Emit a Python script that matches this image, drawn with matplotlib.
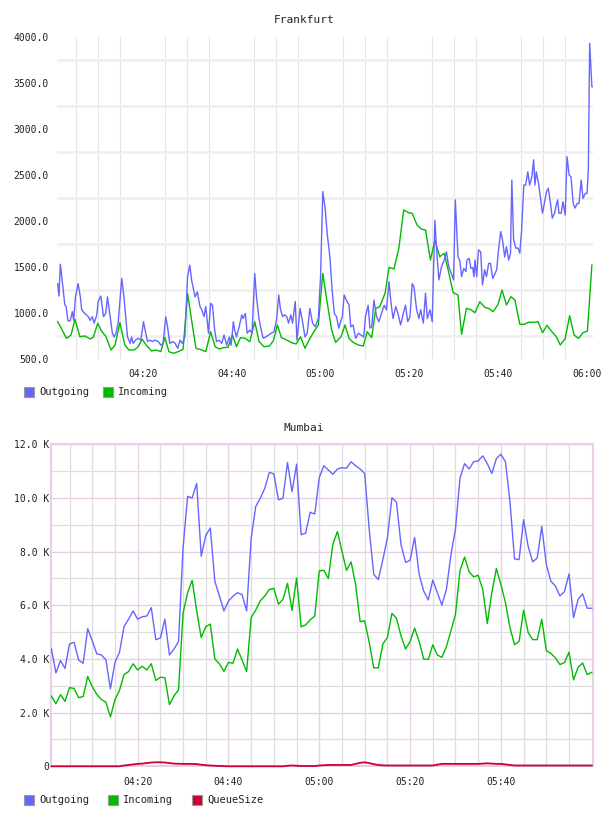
import numpy as np
import pandas as pd
import matplotlib
matplotlib.use("Agg")
import matplotlib.pyplot as plt
import matplotlib.dates as mdates
from matplotlib.patches import Rectangle
from matplotlib.ticker import FixedLocator

plt.rcParams['font.family'] = ['DejaVu Sans Mono']

# ---------------- data ----------------
BASE = "2024-01-01 04:00"

# Frankfurt (minutes after 04:00)
fra_out_min = [0.9,1.2,1.5,1.9,2.5,2.8,3.2,3.7,4.2,4.5,4.9,5.5,6.0,6.3,7.0,7.8,8.2,8.7,9.1,9.7,
               10.0,10.6,11.2,11.7,12.1,12.7,13.2,13.6,14.0,14.5,15.3,15.8,16.2,16.6,17.2,17.5,17.9,18.4,19.0,19.6,
               20.2,20.7,21.1,21.6,22.2,22.8,23.5,24.1,24.6,25.2,25.6,26.1,26.7,27.3,27.9,28.4,28.9,29.5,
               30.1,30.6,31.0,31.8,32.3,32.9,33.3,33.8,34.2,34.5,34.8,35.3,35.7,36.2,36.6,37.2,37.8,38.3,38.9,39.5,39.9,
               40.4,40.7,41.1,41.7,42.3,42.6,43.1,43.5,44.1,44.6,45.2,45.6,46.1,46.5,47.1,47.7,48.3,48.9,49.5,
               50.1,50.6,51.0,51.5,51.9,52.4,52.8,53.3,53.7,54.3,54.7,55.4,56.0,56.5,57.0,57.6,58.2,58.8,59.5,
               60.0,60.5,61.0,61.5,62.1,62.6,63.1,63.6,64.1,64.6,64.9,65.3,65.8,66.4,66.8,67.3,67.9,68.5,69.1,69.7,
               70.1,70.7,71.1,71.5,72.0,72.6,73.1,73.7,74.3,74.8,75.4,75.8,76.3,76.9,77.4,78.0,78.6,79.1,79.6,
               80.1,80.6,81.0,81.6,82.1,82.5,83.1,83.6,84.0,84.6,85.1,85.7,86.1,86.6,87.2,87.8,88.3,88.8,89.4,89.9,
               90.3,90.9,91.3,91.7,92.2,92.7,92.9,93.4,93.8,94.2,94.5,94.7,95.1,95.5,96.0,96.4,96.9,97.3,97.8,98.2,98.7,99.1,99.6,
               100.0,100.5,100.9,101.4,101.8,102.3,102.7,103.0,103.4,103.9,104.4,104.8,105.2,105.7,106.1,106.6,107.0,107.5,107.9,108.2,108.5,109.0,109.4,109.9,
               110.3,110.8,111.2,111.7,112.1,112.6,113.0,113.3,113.6,114.1,114.5,115.0,115.4,115.9,116.3,116.8,117.2,117.7,118.1,118.6,119.0,119.5,119.9,
               120.2,120.5,121.0,121.3]
fra_out_val = [1320,1185,1530,1360,1090,1070,915,915,1015,920,1175,1320,1175,1035,995,960,920,960,890,980,
               1125,1185,960,995,1175,960,780,740,780,890,1375,1175,960,740,670,740,670,705,725,705,
               905,780,690,705,690,705,690,650,670,960,850,670,690,670,615,705,670,740,
               1395,1520,1360,1175,1230,1070,1035,960,1070,920,780,1105,1085,815,690,705,670,760,650,740,650,
               905,815,740,850,980,940,995,780,815,780,1430,1175,960,850,725,740,760,780,795,
               920,1195,1035,960,980,960,890,980,890,1125,705,1050,890,740,780,1050,890,850,940,
               1395,2320,2150,1860,1610,1250,995,960,835,920,960,1195,1140,1085,850,870,725,780,760,740,
               960,1085,835,850,1140,960,905,995,1085,1035,1340,1125,940,1070,995,870,995,1085,905,
               960,1320,1285,1035,940,1035,890,1215,940,1035,905,2010,1685,1360,1505,1575,1665,1505,1430,1360,
               2230,1610,1570,1395,1485,1450,1575,1595,1485,1495,1395,1575,1395,1685,1665,1305,1470,1395,1540,1540,1375,1415,1470,
               1685,1885,1795,1610,1720,1575,1650,2445,1795,1705,1705,1650,1900,2390,2390,2535,2390,2480,2665,2390,2535,2410,2265,2085,
               2190,2320,2355,2190,2030,2085,2175,2230,2085,2085,2210,2065,2700,2500,2480,2190,2140,2190,2190,2445,2245,2300,2300,
               2555,3930,3460,3460]

fra_in_min = [0.9,1.9,2.9,3.9,4.8,5.9,7.0,8.2,8.9,9.9,10.8,11.7,12.9,13.8,14.9,16.0,16.9,18.1,19.0,19.9,
              20.9,22.0,23.0,24.1,25.0,25.9,26.9,28.0,29.1,30.1,31.0,32.0,33.3,34.2,35.3,36.3,37.2,38.3,39.2,
              40.2,41.1,42.0,43.1,44.1,45.2,46.2,47.3,48.5,49.4,50.3,51.2,52.4,53.5,54.5,55.5,56.5,57.4,58.5,59.5,
              60.5,61.4,62.5,63.4,64.6,65.5,66.4,67.3,68.5,69.6,70.5,71.5,72.4,73.3,74.5,75.4,76.5,77.6,78.7,79.7,
              80.6,81.7,82.7,83.6,84.7,85.7,86.8,87.8,88.7,89.8,90.9,91.7,92.8,93.9,94.7,95.8,96.9,97.9,98.8,99.9,
              100.8,101.8,102.8,103.7,104.8,105.8,106.7,107.9,108.9,109.9,110.9,112.0,113.0,113.9,115.0,116.0,117.0,118.0,119.0,120.0,121.0]
fra_in_val = [906,815,724,761,931,742,750,717,735,888,800,750,598,652,895,652,598,598,634,714,
              645,587,598,580,736,580,562,580,605,1214,924,616,598,580,797,634,609,624,627,
              761,634,732,724,688,906,688,634,641,699,870,732,706,677,663,742,616,706,797,870,
              1431,1141,815,681,742,870,724,681,652,641,797,732,1051,1068,1214,1496,1478,1703,2120,2092,
              2083,1956,1912,1902,1576,1793,1612,1649,1467,1221,1196,768,1051,1033,1003,1123,1063,1047,1014,1094,
              1250,1087,1177,1141,877,877,899,899,906,786,866,797,742,652,724,971,761,724,786,804,1522]

# Mumbai: one sample per minute, 04:01 .. 06:00
mum_out_val = [4390,3480,3940,3650,4560,4620,3960,3840,5130,4680,4190,4150,3970,2890,3870,4250,5210,5480,5790,5480,
               5570,5600,5910,4720,4780,5480,4150,4370,4650,8130,10060,10000,10540,7830,8600,8880,6900,6350,5790,6160,
               6340,6470,6400,5790,8500,9680,9990,10360,10950,10900,9930,9990,11320,10230,11260,8630,8690,9470,9400,10760,
               11200,11040,10880,11080,11130,11110,11350,11200,11080,10910,8820,7150,6960,7700,8500,10010,9840,8260,7600,7680,
               8530,7150,6530,6200,6940,6470,6010,6590,7890,8850,10750,11280,11080,11350,11380,11570,11280,10910,11470,11630,
               11350,9860,7730,7700,9190,8200,7620,7760,8940,7520,6900,6720,6350,6510,7170,5540,6220,6430,5890,5890]
mum_in_val = [2620,2330,2670,2420,2930,2900,2560,2600,3350,2970,2680,2490,2390,1840,2480,2830,3420,3530,3820,3590,
              3730,3590,3820,3200,3320,3300,2300,2620,2850,5700,6470,6930,5800,4800,5200,5300,4000,3820,3540,3870,
              3840,4370,3960,3530,5540,5820,6160,6350,6590,6630,6040,6220,6820,5810,7020,5200,5270,5460,5600,7280,
              7310,7000,8280,8750,8010,7300,7620,6780,5390,5420,4620,3670,3670,4560,4800,5700,5520,4860,4370,4650,
              5150,4650,4000,3980,4530,4150,4060,4460,5050,5670,7300,7800,7250,7060,7120,6590,5320,6470,7370,6780,
              6100,5170,4530,4650,5820,4990,4720,4720,5480,4310,4210,4040,3790,3870,4250,3220,3690,3850,3420,3500]
mum_queue_val = [0,0,0,0,0,0,0,0,0,0,0,0,0,0,0,0,30,50,70,90,
                 100,120,140,150,150,140,120,100,95,90,90,90,80,60,40,30,20,10,5,0,
                 0,0,0,0,0,0,0,0,0,0,0,0,20,30,20,10,10,10,10,30,
                 40,50,50,50,50,50,50,90,130,150,120,80,50,35,30,30,30,30,30,30,
                 30,30,30,30,30,60,90,90,90,90,90,90,90,90,90,100,110,100,90,90,
                 70,50,30,30,30,30,30,30,30,30,30,30,30,30,30,30,30,30,30,30]

fra_xtick_labels = ["04:20", "04:40", "05:00", "05:20", "05:40", "06:00"]
mum_xtick_labels = ["04:20", "04:40", "05:00", "05:20", "05:40"]
fra_yticks = [500, 1000, 1500, 2000, 2500, 3000, 3500, 4000]
mum_yticks = [0, 2000, 4000, 6000, 8000, 10000, 12000]

# ---------------- helpers ----------------
base = pd.Timestamp(BASE)
def to_time(mins):
    return base + pd.to_timedelta(np.asarray(mins, dtype=float), unit="m")

def label_times(labels):
    return [pd.Timestamp("2024-01-01 " + s) for s in labels]

C_OUT = "#6666ff"
C_IN = "#00bb00"
C_Q = "#cc0033"
TXT = "#222222"

W, H = 608, 816
fig = plt.figure(figsize=(W / 100, H / 100), dpi=100)

def fx(px):
    return px / W

def fy(py):
    return 1 - py / H

# ---------------- Frankfurt ----------------
ax1 = fig.add_axes([fx(57), fy(359), fx(593 - 57), (359 - 37) / H])
ax1.plot(to_time(fra_in_min), fra_in_val, color=C_IN, lw=1.0, zorder=3)
ax1.plot(to_time(fra_out_min), fra_out_val, color=C_OUT, lw=1.0, zorder=4)
ax1.set_ylim(500, 4000)
ax1.set_xlim(to_time([0.75])[0], to_time([121.25])[0])
ax1.set_yticks(fra_yticks)
ax1.set_yticklabels([f"{v:.1f}" for v in fra_yticks])
ax1.yaxis.set_minor_locator(FixedLocator(np.arange(750, 4000, 500)))
ax1.set_xticks(label_times(fra_xtick_labels))
ax1.set_xticklabels(fra_xtick_labels)
ax1.xaxis.set_minor_locator(mdates.MinuteLocator(byminute=range(0, 60, 5)))
ax1.grid(which="minor", axis="y", color="#f0f0f0", lw=2.0, zorder=0)
ax1.grid(which="minor", axis="x", color="#e4e4e4", lw=0.8, zorder=0)
ax1.grid(which="major", visible=False)
for s in ax1.spines.values():
    s.set_visible(False)
ax1.tick_params(which="both", length=0)
ax1.tick_params(axis="y", pad=6, labelsize=7, labelcolor=TXT)
ax1.tick_params(axis="x", pad=7, labelsize=7, labelcolor=TXT)
fig.text(0.5, fy(20), "Frankfurt", ha="center", va="center", fontsize=8, color=TXT)

# ---------------- Mumbai ----------------
ax2 = fig.add_axes([fx(50.7), fy(766.3), fx(593.3 - 50.7), (766.3 - 444.3) / H])
mt = to_time(np.arange(1, 121))
ax2.plot(mt, mum_in_val, color=C_IN, lw=1.0, zorder=3)
ax2.plot(mt, mum_out_val, color=C_OUT, lw=1.0, zorder=4)
ax2.plot(mt, mum_queue_val, color=C_Q, lw=1.3, zorder=5, clip_on=False)
ax2.set_ylim(0, 12000)
ax2.set_xlim(to_time([0.85])[0], to_time([120.35])[0])
ax2.set_yticks(mum_yticks)
ax2.set_yticklabels(["0" if v == 0 else f"{v/1000:.1f} K" for v in mum_yticks])
ax2.yaxis.set_minor_locator(FixedLocator(np.arange(1000, 12000, 2000)))
ax2.set_xticks(label_times(mum_xtick_labels))
ax2.set_xticklabels(mum_xtick_labels)
ax2.xaxis.set_minor_locator(mdates.MinuteLocator(byminute=range(5, 60, 5)))
ax2.grid(which="minor", color="#dedede", lw=0.9, zorder=0)
ax2.grid(which="major", color="#e8cfe8", lw=1.0, zorder=1)
for s in ax2.spines.values():
    s.set_color("#e8cfe8")
    s.set_linewidth(1.5)
ax2.tick_params(which="both", length=0)
ax2.tick_params(axis="y", pad=1, labelsize=7, labelcolor=TXT)
ax2.tick_params(axis="x", pad=8, labelsize=7, labelcolor=TXT)
fig.text(0.5, fy(428), "Mumbai", ha="center", va="center", fontsize=8, color=TXT)

# ---------------- legends ----------------
def legend_item(x_px, y_px, color, label):
    fig.patches.append(Rectangle((fx(x_px), fy(y_px + 5)), 10 / W, 10 / H,
                                 transform=fig.transFigure, facecolor=color,
                                 edgecolor="#999999", lw=0.8))
    fig.text(fx(x_px + 15), fy(y_px), label, ha="left", va="center",
             fontsize=7.5, color=TXT)

legend_item(24, 392, C_OUT, "Outgoing")
legend_item(103, 392, C_IN, "Incoming")
legend_item(24, 800, C_OUT, "Outgoing")
legend_item(108, 800, C_IN, "Incoming")
legend_item(192, 800, C_Q, "QueueSize")

fig.savefig("out.png", dpi=100, facecolor="white")
